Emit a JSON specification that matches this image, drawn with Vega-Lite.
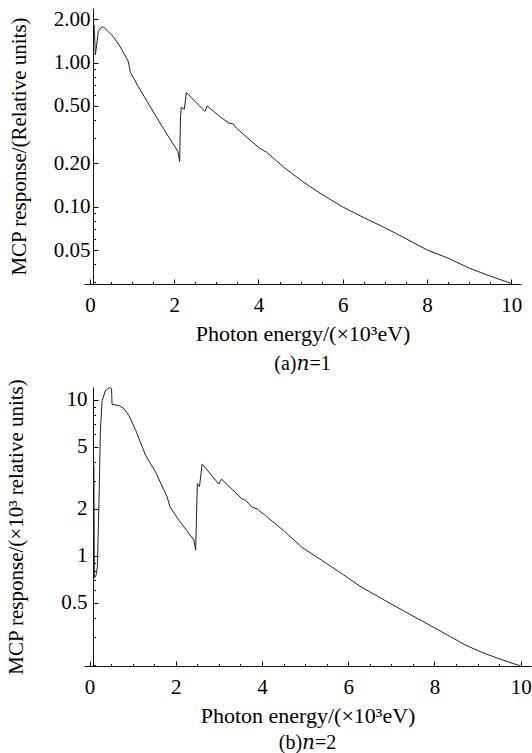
{
  "$schema": "https://vega.github.io/schema/vega-lite/v6.json",
  "background": "white",
  "padding": {"left": 5, "top": 8, "right": 0, "bottom": 0},
  "spacing": 4,
  "config": {
    "font": "Liberation Serif",
    "view": {"stroke": null},
    "axis": {
      "grid": false,
      "domainColor": "#111",
      "domainWidth": 1,
      "tickColor": "#111",
      "labelColor": "black",
      "titleColor": "black",
      "labelFont": "Liberation Serif",
      "titleFont": "Liberation Serif",
      "labelFontSize": 21,
      "titleFontSize": 21,
      "titleFontWeight": "normal"
    },
    "title": {"font": "Liberation Serif, DejaVu Serif", "fontSize": 20, "fontWeight": "normal", "color": "black"}
  },
  "datasets": {
    "a": [
      {"energy": 0.1, "response": 1.83},
      {"energy": 0.13, "response": 1.13},
      {"energy": 0.2, "response": 1.65},
      {"energy": 0.28, "response": 1.76},
      {"energy": 0.33, "response": 1.76},
      {"energy": 0.47, "response": 1.6},
      {"energy": 0.55, "response": 1.52},
      {"energy": 0.71, "response": 1.3},
      {"energy": 0.91, "response": 1.02},
      {"energy": 0.96, "response": 0.855},
      {"energy": 1.15, "response": 0.68},
      {"energy": 1.42, "response": 0.5},
      {"energy": 1.74, "response": 0.35},
      {"energy": 2.09, "response": 0.241},
      {"energy": 2.13, "response": 0.206},
      {"energy": 2.15, "response": 0.423},
      {"energy": 2.17, "response": 0.49},
      {"energy": 2.24, "response": 0.475},
      {"energy": 2.29, "response": 0.62},
      {"energy": 2.73, "response": 0.458},
      {"energy": 2.78, "response": 0.5},
      {"energy": 3.08, "response": 0.423},
      {"energy": 3.3, "response": 0.38},
      {"energy": 3.4, "response": 0.375},
      {"energy": 3.48, "response": 0.35},
      {"energy": 4.02, "response": 0.255},
      {"energy": 4.19, "response": 0.239},
      {"energy": 4.63, "response": 0.185},
      {"energy": 5.04, "response": 0.15},
      {"energy": 5.5, "response": 0.122},
      {"energy": 5.99, "response": 0.1},
      {"energy": 6.5, "response": 0.084},
      {"energy": 7.02, "response": 0.071},
      {"energy": 7.5, "response": 0.06},
      {"energy": 8.01, "response": 0.05},
      {"energy": 8.5, "response": 0.044},
      {"energy": 9.0, "response": 0.0375},
      {"energy": 9.5, "response": 0.033},
      {"energy": 10.0, "response": 0.0294}
    ],
    "b": [
      {"energy": 0.1, "response": 3.8},
      {"energy": 0.11, "response": 0.72},
      {"energy": 0.15, "response": 0.75},
      {"energy": 0.18, "response": 0.85},
      {"energy": 0.22, "response": 2.38},
      {"energy": 0.25, "response": 6.4},
      {"energy": 0.29, "response": 9.9},
      {"energy": 0.37, "response": 11.5},
      {"energy": 0.46, "response": 12.0},
      {"energy": 0.51, "response": 11.8},
      {"energy": 0.52, "response": 9.36},
      {"energy": 0.68, "response": 9.2},
      {"energy": 0.8, "response": 8.78},
      {"energy": 0.91, "response": 7.95},
      {"energy": 1.07, "response": 6.37},
      {"energy": 1.3, "response": 4.4},
      {"energy": 1.53, "response": 3.45},
      {"energy": 1.8, "response": 2.38},
      {"energy": 1.86, "response": 2.07},
      {"energy": 2.07, "response": 1.69},
      {"energy": 2.42, "response": 1.26},
      {"energy": 2.46, "response": 1.085},
      {"energy": 2.5, "response": 2.9},
      {"energy": 2.55, "response": 2.78},
      {"energy": 2.61, "response": 3.88},
      {"energy": 3.0, "response": 2.88},
      {"energy": 3.06, "response": 3.1},
      {"energy": 3.54, "response": 2.31},
      {"energy": 3.6, "response": 2.3},
      {"energy": 3.77, "response": 2.05},
      {"energy": 3.89, "response": 2.0},
      {"energy": 3.93, "response": 1.95},
      {"energy": 4.08, "response": 1.81},
      {"energy": 4.5, "response": 1.45},
      {"energy": 4.93, "response": 1.13},
      {"energy": 5.4, "response": 0.93},
      {"energy": 5.86, "response": 0.764},
      {"energy": 6.3, "response": 0.63},
      {"energy": 6.79, "response": 0.528},
      {"energy": 7.3, "response": 0.44},
      {"energy": 7.83, "response": 0.366},
      {"energy": 8.3, "response": 0.31},
      {"energy": 8.72, "response": 0.267},
      {"energy": 9.1, "response": 0.24},
      {"energy": 9.5, "response": 0.218},
      {"energy": 10.0, "response": 0.196}
    ]
  },
  "vconcat": [
    {
      "width": 437,
      "height": 276,
      "data": {"name": "a"},
      "title": {"text": "(a)𝑛=1", "orient": "bottom", "anchor": "middle", "frame": "group", "offset": 10},
      "mark": {"type": "line", "color": "#222", "strokeWidth": 1, "clip": true},
      "encoding": {
        "x": {
          "field": "energy", "type": "quantitative",
          "scale": {"domain": [-0.14, 10.23], "nice": false, "zero": false},
          "axis": {
            "title": "Photon energy/(×10³eV)",
            "titleFontSize": 22,
            "values": [0, 0.5, 1, 1.5, 2, 2.5, 3, 3.5, 4, 4.5, 5, 5.5, 6, 6.5, 7, 7.5, 8, 8.5, 9, 9.5, 10],
            "labelExpr": "datum.value % 2 === 0 ? format(datum.value, 'd') : ''",
            "tickSize": {"condition": {"test": "datum.value % 2 === 0", "value": -5}, "value": -2.5},
            "labelPadding": 15,
            "titlePadding": 8
          }
        },
        "y": {
          "field": "response", "type": "quantitative",
          "scale": {"type": "log", "domain": [0.0291, 2.39], "nice": false},
          "axis": {
            "title": "MCP response/(Relative units)",
            "values": [0.03, 0.04, 0.05, 0.06, 0.07, 0.08, 0.09, 0.1, 0.2, 0.3, 0.4, 0.5, 0.6, 0.7, 0.8, 0.9, 1, 2],
            "labelExpr": "indexof([2, 1, 0.5, 0.2, 0.1, 0.05], datum.value) >= 0 ? format(datum.value, '.2f') : ''",
            "tickSize": {"condition": {"test": "indexof([2, 1, 0.5, 0.2, 0.1, 0.05], datum.value) >= 0", "value": -5}, "value": -2.5},
            "offset": -9,
            "labelPadding": 8,
            "titlePadding": 24
          }
        }
      }
    },
    {
      "width": 447,
      "height": 279,
      "data": {"name": "b"},
      "title": {"text": "(b)𝑛=2", "orient": "bottom", "anchor": "middle", "frame": "group", "offset": 7},
      "mark": {"type": "line", "color": "#222", "strokeWidth": 1, "clip": true},
      "encoding": {
        "x": {
          "field": "energy", "type": "quantitative",
          "scale": {"domain": [-0.13, 10.24], "nice": false, "zero": false},
          "axis": {
            "title": "Photon energy/(×10³eV)",
            "titleFontSize": 22,
            "values": [0, 0.5, 1, 1.5, 2, 2.5, 3, 3.5, 4, 4.5, 5, 5.5, 6, 6.5, 7, 7.5, 8, 8.5, 9, 9.5, 10],
            "labelExpr": "datum.value % 2 === 0 ? format(datum.value, 'd') : ''",
            "tickSize": {"condition": {"test": "datum.value % 2 === 0", "value": -5}, "value": -2.5},
            "labelPadding": 15,
            "titlePadding": 8
          }
        },
        "y": {
          "field": "response", "type": "quantitative",
          "scale": {"type": "log", "domain": [0.196, 12.1], "nice": false},
          "axis": {
            "title": "MCP response/(×10³ relative units)",
            "values": [0.2, 0.3, 0.4, 0.5, 0.6, 0.7, 0.8, 0.9, 1, 2, 3, 4, 5, 6, 7, 8, 9, 10],
            "labelExpr": "indexof([10, 5, 2, 1, 0.5], datum.value) >= 0 ? format(datum.value, '~g') : ''",
            "tickSize": {"condition": {"test": "indexof([10, 5, 2, 1, 0.5], datum.value) >= 0", "value": -5}, "value": -2.5},
            "offset": -9,
            "labelPadding": 11,
            "titlePadding": 34
          }
        }
      }
    }
  ]
}
